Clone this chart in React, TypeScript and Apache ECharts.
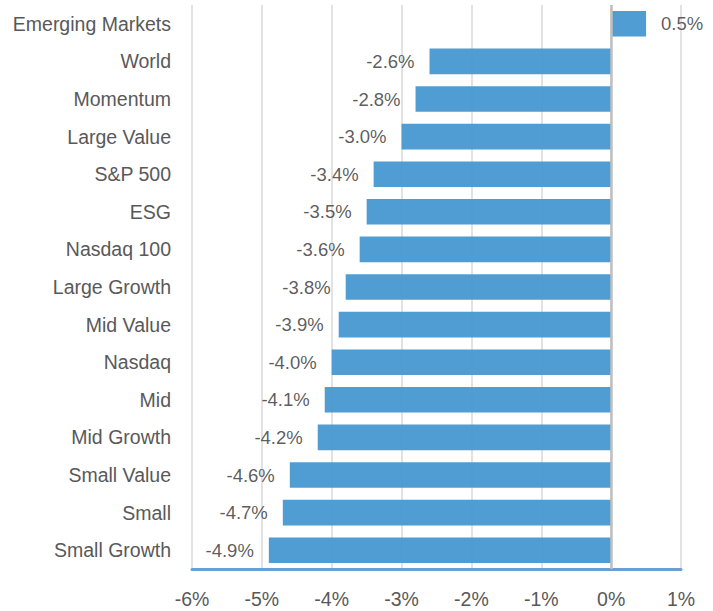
import React, { useEffect, useRef } from "react";
import * as echarts from "echarts";

const categories = [
  "Emerging Markets", "World", "Momentum", "Large Value", "S&P 500", "ESG",
  "Nasdaq 100", "Large Growth", "Mid Value", "Nasdaq", "Mid", "Mid Growth",
  "Small Value", "Small", "Small Growth",
];
const values = [0.5, -2.6, -2.8, -3.0, -3.4, -3.5, -3.6, -3.8, -3.9, -4.0, -4.1, -4.2, -4.6, -4.7, -4.9];
const xTicks = { min: -6, max: 1, interval: 1 };

export default function App() {
  const ref = useRef<HTMLDivElement>(null);
  useEffect(() => {
    document.body.style.margin = "0";
    const chart = echarts.init(ref.current!, null, { renderer: "svg" });
    const font = "'Liberation Sans', Arial, sans-serif";
    chart.setOption({
      animation: false,
      backgroundColor: "#ffffff",
      grid: { left: 192, right: 32, top: 5, bottom: 42, containLabel: false, outerBoundsMode: "none" },
      xAxis: {
        type: "value",
        min: xTicks.min,
        max: xTicks.max,
        interval: xTicks.interval,
        axisLine: { show: true, lineStyle: { color: "#6a9fd4", width: 3 } },
        axisTick: { show: false },
        axisLabel: {
          formatter: "{value}%",
          fontSize: 19.5,
          color: "#595959",
          fontFamily: font,
          margin: 20,
        },
        splitLine: { show: true, lineStyle: { color: "#d9d9d9", width: 1.5 } },
      },
      yAxis: {
        type: "category",
        data: categories,
        inverse: true,
        axisLine: { show: false },
        axisTick: { show: false },
        axisLabel: {
          fontSize: 19.5,
          color: "#595959",
          fontFamily: font,
          margin: 21,
        },
      },
      series: [
        {
          type: "bar",
          barCategoryGap: "32%",
          itemStyle: { color: "#4a9ad3", opacity: 0.97 },
          data: values.map((v) => ({
            value: v,
            label: { position: v < 0 ? "left" : "right" },
          })),
          label: {
            show: true,
            distance: 15,
            fontSize: 18.5,
            color: "#595959",
            fontFamily: font,
            formatter: (p: any) => `${Number(p.value).toFixed(1)}%`,
          },
          markLine: {
            silent: true,
            symbol: "none",
            label: { show: false },
            lineStyle: { color: "#bfbfbf", width: 2.5, type: "solid" },
            data: [{ xAxis: 0 }],
          },
        },
      ],
    });
    return () => chart.dispose();
  }, []);
  return <div ref={ref} style={{ width: 713, height: 611 }} />;
}
